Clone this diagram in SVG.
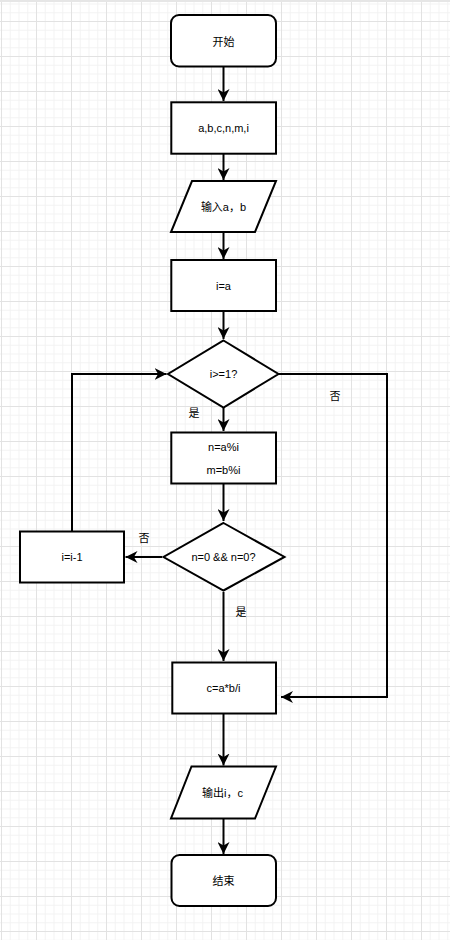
<svg xmlns="http://www.w3.org/2000/svg" width="450" height="940" viewBox="0 0 450 940">
<defs>
<pattern id="grid" patternUnits="userSpaceOnUse" x="1" y="21" width="35" height="35">
<rect x="0" y="0" width="35" height="35" fill="#ffffff"/>
<g fill="#f3f3f3">
<rect x="8.75" y="0" width="1" height="35"/><rect x="17.5" y="0" width="1" height="35"/><rect x="26.25" y="0" width="1" height="35"/>
<rect x="0" y="8.75" width="35" height="1"/><rect x="0" y="17.5" width="35" height="1"/><rect x="0" y="26.25" width="35" height="1"/>
</g>
<g fill="#e2e2e2">
<rect x="0" y="0" width="1" height="35"/><rect x="0" y="0" width="35" height="1"/>
</g>
</pattern>
<marker id="arr" markerUnits="userSpaceOnUse" markerWidth="12" markerHeight="12" refX="10" refY="5" orient="auto" viewBox="0 0 10 10">
<path d="M0,0 L10,5 L0,10 L3,5 Z" fill="#000"/>
</marker>
</defs>
<style>
.n{fill:#fff;stroke:#000;stroke-width:2}
.c{fill:none;stroke:#000;stroke-width:2;marker-end:url(#arr)}
text{font-family:"Liberation Sans","Noto Sans CJK SC",sans-serif;font-size:11px;fill:#000;text-anchor:middle;dominant-baseline:central}
</style>
<rect width="450" height="940" fill="url(#grid)"/>
<rect x="0" y="0" width="450" height="2" fill="#e6e6e6"/>

<g id="connectors">
<path class="c" d="M223.5,66 L223.5,101"/>
<path class="c" d="M223.5,154 L223.5,180"/>
<path class="c" d="M223.5,232 L223.5,259"/>
<path class="c" d="M223.5,311 L223.5,339"/>
<path class="c" d="M223.5,408 L223.5,431"/>
<path class="c" d="M223.5,484 L223.5,521"/>
<path class="c" d="M162,557 L125.5,557"/>
<path class="c" d="M72,531 L72,374 L166.5,374"/>
<path class="c" d="M279,374 L387,374 L387,697 L281,697"/>
<path class="c" d="M223.5,592 L223.5,661"/>
<path class="c" d="M223.5,714 L223.5,765.5"/>
<path class="c" d="M223.5,819 L223.5,854"/>
<text x="194" y="413">是</text>
<text x="335" y="396">否</text>
<text x="144" y="538">否</text>
<text x="241" y="612">是</text>
</g>

<g id="start"><rect class="n" x="171" y="15" width="105" height="51.5" rx="8"/><text x="223.5" y="41.5">开始</text></g>
<g id="vars"><rect class="n" x="171.3" y="102.3" width="104.7" height="51.4"/><text x="223.5" y="128">a,b,c,n,m,i</text></g>
<g id="input"><polygon class="n" points="192,181 276,181 255,232 171,232"/><text x="223.5" y="207">输入a，b</text></g>
<g id="init"><rect class="n" x="171.3" y="260" width="104.7" height="51"/><text x="223.5" y="286">i=a</text></g>
<g id="cond1"><polygon class="n" points="223.5,340.5 278.5,374 223.5,407.5 168,374"/><text x="223.5" y="374">i&gt;=1?</text></g>
<g id="mod"><rect class="n" x="171.3" y="432.5" width="104.7" height="51"/><text x="223.5" y="446.5">n=a%i</text><text x="223.5" y="469.5">m=b%i</text></g>
<g id="cond2"><polygon class="n" points="223.5,523 284.5,557 223.5,590.5 163.5,557"/><text x="223.5" y="557">n=0 &amp;&amp; n=0?</text></g>
<g id="dec"><rect class="n" x="20" y="531.5" width="104" height="51"/><text x="72" y="557">i=i-1</text></g>
<g id="calc"><rect class="n" x="172.3" y="662.5" width="103.7" height="51"/><text x="223.5" y="688">c=a*b/i</text></g>
<g id="output"><polygon class="n" points="191.5,766.5 276,766.5 255,818.5 171,818.5"/><text x="222.5" y="793">输出i，c</text></g>
<g id="end"><rect class="n" x="171.5" y="855" width="104.5" height="51" rx="8"/><text x="223.5" y="881">结束</text></g>
</svg>
